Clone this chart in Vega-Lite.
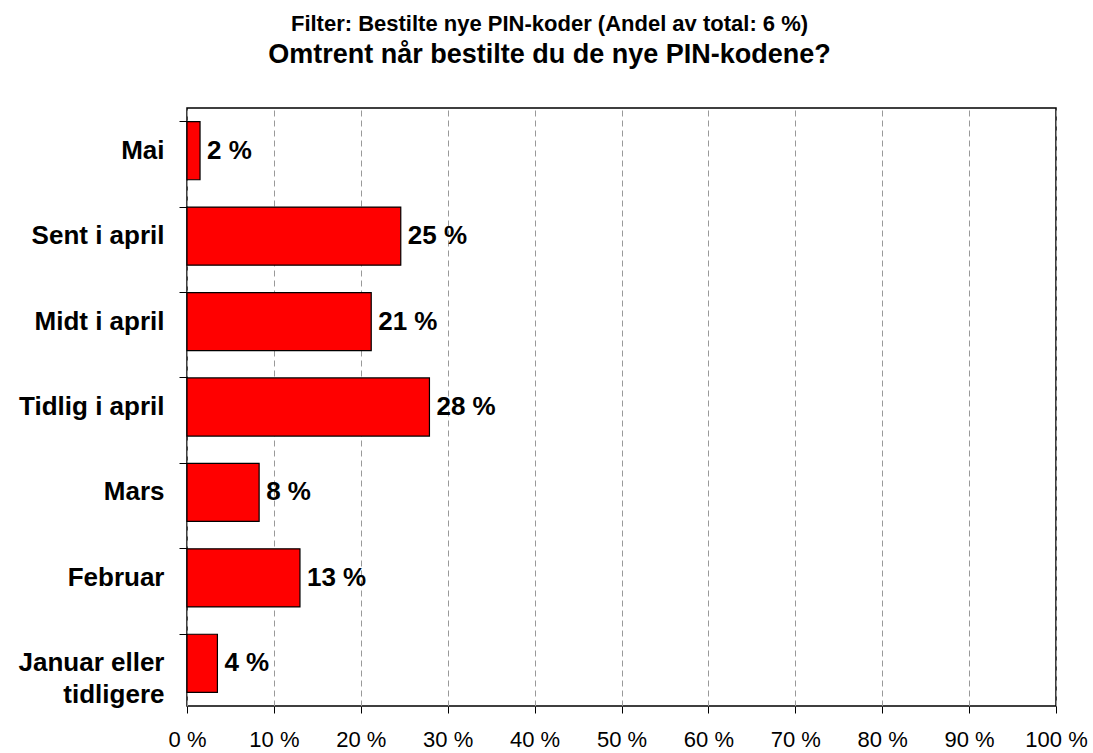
{
  "$schema": "https://vega.github.io/schema/vega-lite/v6.json",
  "width": 869,
  "height": 598,
  "autosize": {"type": "none"},
  "padding": {"left": 187, "top": 108, "right": 37, "bottom": 47},
  "background": "white",
  "title": {
    "text": "Filter: Bestilte nye PIN-koder (Andel av total: 6 %)",
    "subtitle": "Omtrent når bestilte du de nye PIN-kodene?",
    "font": "Liberation Sans",
    "fontSize": 22,
    "fontWeight": "bold",
    "subtitleFont": "Liberation Sans",
    "subtitleFontSize": 27,
    "subtitleFontWeight": "bold",
    "subtitleColor": "black",
    "subtitlePadding": 6,
    "color": "black",
    "anchor": "middle",
    "dx": -72,
    "offset": 39
  },
  "config": {
    "view": {"stroke": "black", "strokeWidth": 1.5},
    "font": "Liberation Sans"
  },
  "data": {
    "values": [
      {"periode": "Mai", "andel": 1.5, "label": "2 %"},
      {"periode": "Sent i april", "andel": 24.6, "label": "25 %"},
      {"periode": "Midt i april", "andel": 21.2, "label": "21 %"},
      {"periode": "Tidlig i april", "andel": 27.9, "label": "28 %"},
      {"periode": "Mars", "andel": 8.3, "label": "8 %"},
      {"periode": "Februar", "andel": 13.0, "label": "13 %"},
      {"periode": "Januar eller tidligere", "andel": 3.5, "label": "4 %"}
    ]
  },
  "encoding": {
    "y": {
      "field": "periode",
      "type": "nominal",
      "sort": null,
      "scale": {"paddingInner": 0.32, "paddingOuter": 0.16},
      "axis": {
        "title": null,
        "bandPosition": 0,
        "domain": false,
        "tickColor": "black",
        "tickSize": 8,
        "tickWidth": 1,
        "labelFont": "Liberation Sans",
        "labelFontSize": 26,
        "labelFontWeight": "bold",
        "labelColor": "black",
        "labelPadding": 15,
        "labelLimit": 300,
        "labelLineHeight": 32,
        "labelExpr": "datum.label == 'Januar eller tidligere' ? ['Januar eller', 'tidligere'] : datum.label",
        "labelAlign": "right"
      }
    },
    "x": {
      "field": "andel",
      "type": "quantitative",
      "scale": {"domain": [0, 100], "nice": false},
      "axis": {
        "title": null,
        "values": [0, 10, 20, 30, 40, 50, 60, 70, 80, 90, 100],
        "labelExpr": "datum.value + ' %'",
        "domain": false,
        "tickColor": "black",
        "tickSize": 7,
        "labelFont": "Liberation Sans",
        "labelFontSize": 22,
        "labelColor": "black",
        "labelPadding": 16,
        "labelFlush": false,
        "grid": true,
        "gridColor": "#999999",
        "gridDash": [6, 4],
        "gridWidth": 1
      }
    }
  },
  "layer": [
    {
      "mark": {"type": "bar", "color": "#FF0000", "stroke": "black", "strokeWidth": 1.2}
    },
    {
      "mark": {"type": "text", "align": "left", "baseline": "middle", "dx": 7, "font": "Liberation Sans", "fontSize": 26, "fontWeight": "bold", "color": "black"},
      "encoding": {"text": {"field": "label"}}
    }
  ]
}
